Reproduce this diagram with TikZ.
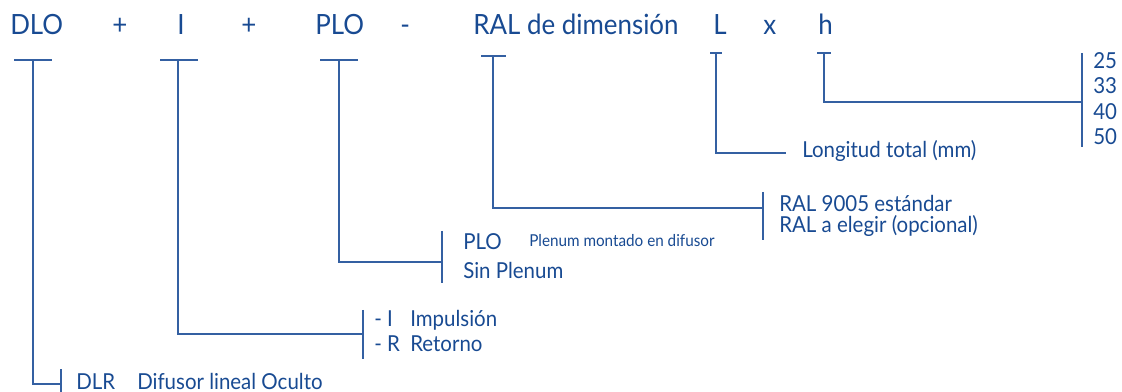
\documentclass[tikz,border=0pt]{standalone}
\usepackage{fontspec}
\setmainfont{Lato}[FakeStretch=0.93]
\usepackage{tikz}
\usetikzlibrary{positioning}
\definecolor{codeblue}{RGB}{24,74,146}
\definecolor{lineblue}{RGB}{52,96,162}

\begin{document}
\begin{tikzpicture}[
      x=0.75pt, y=-0.75pt,
      every node/.style={anchor=base west, inner sep=0pt, text=codeblue},
      code/.style={font=\fontsize{20.9}{24}\selectfont},
      option/.style={font=\fontsize{16.5}{20}\selectfont},
      note/.style={font=\fontsize{12.3}{14}\selectfont},
      link/.style={draw=lineblue, line width=1pt},
      bar/.style={draw=lineblue, line width=1pt}
    ]
      \useasboundingbox (0,0) rectangle (1122,392);
      \node[code] (dlo) at (10,35) {DLO};
      \node[code] (plusA) at (112,35) {+};
      \node[code] (imp) at (177,35) {I};
      \node[code] (plusB) at (241,35) {+};
      \node[code] (plo) at (315,35) {PLO};
      \node[code] (minus) at (400,35) {-};
      \node[code] (ral) at (473,35) {RAL de dimensión};
      \node[code] (len) at (713,35) {L};
      \node[code] (times) at (763,35) {x};
      \node[code] (hgt) at (818,35) {h};

      \coordinate (dloT) at (33,60);
      \coordinate (impT) at (178,60);
      \coordinate (ploT) at (339,60);
      \coordinate (ralT) at (493,56);
      \coordinate (lenT) at (716,53);
      \coordinate (hgtT) at (824,53);

      \draw[bar] (14,60) -- (52,60);
      \draw[bar] (160,60) -- (198,60);
      \draw[bar] (320,60) -- (358,60);
      \draw[bar] (481,56) -- (506,56);
      \draw[bar] (710,53) -- (722,53);
      \draw[bar] (817,53) -- (831,53);

      \coordinate (dlrB) at (61,384);
      \coordinate (impB) at (363,334);
      \coordinate (ploB) at (442,262);
      \coordinate (ralB) at (763,208);
      \coordinate (lenB) at (786,153);
      \coordinate (hgtB) at (1082,102);

      \draw[bar] (61,369) -- (61,394);
      \draw[bar] (363,310) -- (363,359);
      \draw[bar] (442,231) -- (442,283);
      \draw[bar] (763,192) -- (763,240);
      \draw[bar] (1082,53) -- (1082,147);

      \draw[link] (dloT) |- (dlrB);
      \draw[link] (impT) |- (impB);
      \draw[link] (ploT) |- (ploB);
      \draw[link] (ralT) |- (ralB);
      \draw[link] (lenT) |- (lenB);
      \draw[link] (hgtT) |- (hgtB);

      \node[option] (dlr) at (76,389) {DLR};
      \node[option] (dlrtxt) at (137,389) {Difusor lineal Oculto};

      \node[option] (impI) at (374,326) {- I};
      \node[option] (impItxt) at (410,326) {Impulsión};
      \node[option] (impR) at (374,351) {- R};
      \node[option] (impRtxt) at (410,351) {Retorno};

      \node[option] (ploA) at (463,250) {PLO};
      \node[note] (ploAtxt) at (529,247) {Plenum montado en difusor};
      \node[option] (ploN) at (463,278) {Sin Plenum};

      \node[option] (ralStd) at (779,212) {RAL 9005 estándar};
      \node[option] (ralOpt) at (779,233) {RAL a elegir (opcional)};

      \node[option] (lenTxt) at (802,158) {Longitud total (mm)};

      \foreach \val/\y in {25/69, 33/94, 40/120, 50/145}
        \node[option] (h\val) at (1093,\y) {\val};
    \end{tikzpicture}
\end{document}
